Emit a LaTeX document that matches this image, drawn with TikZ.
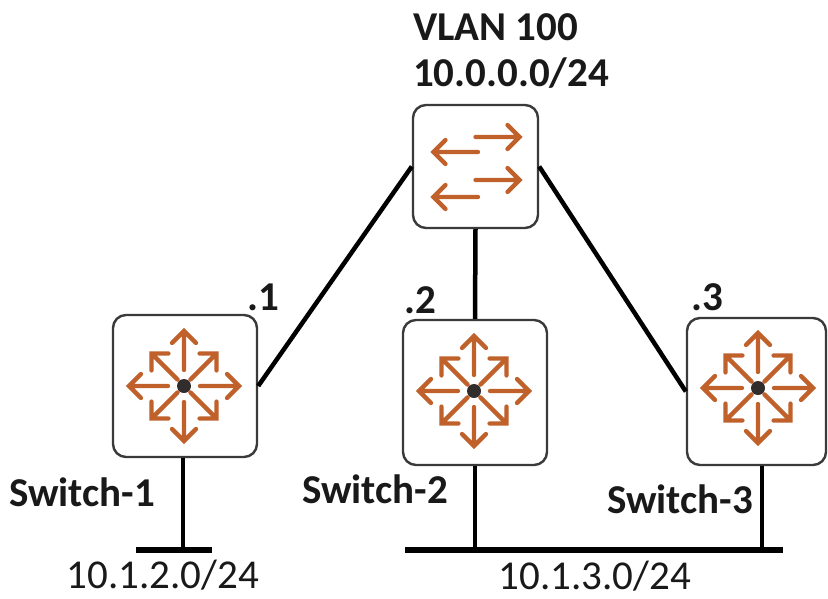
\documentclass[tikz,border=0pt]{standalone}
\usepackage{fontspec}
\setmainfont{Carlito}
\definecolor{iconorange}{RGB}{192,96,42}
\definecolor{boxgray}{RGB}{58,58,58}
\definecolor{dotgray}{RGB}{50,45,45}
\definecolor{txtgray}{RGB}{25,25,25}
\tikzset{
  devbox/.style={draw=boxgray,line width=2.4pt,rounded corners=13pt,fill=white,inner sep=0pt},
  icon/.style={draw=iconorange,line width=4.3pt,line cap=round,line join=miter},
  link/.style={draw=black,line width=4.5pt},
  busline/.style={draw=black,line width=6pt},
  boldlab/.style={font=\fontsize{41}{46}\selectfont\bfseries,text=txtgray,inner sep=0pt},
  netlab/.style={font=\fontsize{41}{46}\selectfont,text=txtgray,inner sep=0pt},
  routericon/.pic={
    \foreach \a in {0,90,180,270}{
      \draw[icon,rotate=\a] (16,0) -- (55,0) (43,12) -- (55,0) -- (43,-12);
    }
    \foreach \a in {45,135,225,315}{
      \draw[icon,rotate=\a] (9,0) -- (46,0) (34,12) -- (46,0) -- (34,-12);
    }
    \fill[dotgray] (0,0) circle (7);
  },
  switchicon/.pic={
    \draw[icon] (0,-29.5) -- (44,-29.5) (32,-41.5) -- (44,-29.5) -- (32,-17.5);
    \draw[icon] (0,13.5) -- (44,13.5) (32,1.5) -- (44,13.5) -- (32,25.5);
    \draw[icon] (2.5,-14.5) -- (-42,-14.5) (-30,-26.5) -- (-42,-14.5) -- (-30,-2.5);
    \draw[icon] (2.5,30.5) -- (-42,30.5) (-30,18.5) -- (-42,30.5) -- (-30,42.5);
  }
}
\begin{document}
\begin{tikzpicture}[x=1pt,y=-1pt]
\useasboundingbox[fill=white] (0,0) rectangle (828,598);
% devices
\node[devbox,minimum width=125pt,minimum height=123pt] (core) at (475.5,166.5) {};
\node[devbox,minimum width=144pt,minimum height=142pt] (sw1) at (185,386) {};
\node[devbox,minimum width=144pt,minimum height=145pt] (sw2) at (475,392.5) {};
\node[devbox,minimum width=139pt,minimum height=147pt] (sw3) at (756.5,391.5) {};
\pic at (core.center) {switchicon};
\pic at (184,386) {routericon};
\pic at (474,391) {routericon};
\pic at (758,388) {routericon};
% links
\draw[link] (core.west) -- (sw1.east);
\draw[link] (core.south) -- (sw2.north);
\draw[link] (core.east) -- (sw3.west);
% LAN segments
\coordinate (b1) at (183,550);
\coordinate (b1l) at (136,550);
\coordinate (b1r) at (212,550);
\coordinate (b2) at (475,550);
\coordinate (b3) at (762,550);
\coordinate (busl) at (405,550);
\coordinate (busr) at (783,550);
\draw[link] (sw1.south -| b1) -- (b1);
\draw[busline] (b1l) -- (b1r);
\draw[link] (sw2.south) -- (b2);
\draw[link] (sw3.south -| b3) -- (b3);
\draw[busline] (busl) -- (busr);
% labels
\node[boldlab,anchor=west] (vlan) at (413,27) {VLAN 100};
\node[boldlab,anchor=west] (vnet) at (413,73) {10.0.0.0/24};
\node[boldlab] (l1) at (82,492) {Switch-1};
\node[boldlab] (l2) at (375,489) {Switch-2};
\node[boldlab] (l3) at (680,499) {Switch-3};
\node[boldlab] (d1) at (263,297) {.1};
\node[boldlab] (d2) at (420,300) {.2};
\node[boldlab] (d3) at (707,297) {.3};
\node[netlab] (n1) at (163,575) {10.1.2.0/24};
\node[netlab] (n3) at (595,576) {10.1.3.0/24};
\end{tikzpicture}
\end{document}
